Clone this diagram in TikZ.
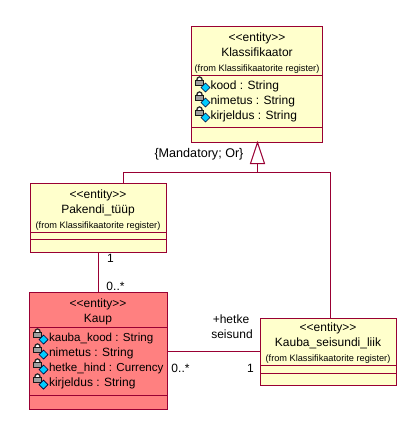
\documentclass[tikz,border=0pt]{standalone}
\usepackage{fontspec}
\setmainfont{Liberation Sans}
\definecolor{umlline}{HTML}{990033}
\definecolor{umlyellow}{HTML}{FFFFCC}
\definecolor{umlred}{HTML}{FF8080}
\definecolor{keyblue}{HTML}{00CCFF}
\tikzset{
  x=1pt,y=-1pt,
  umlbox/.style={draw=umlline,line width=1pt,inner sep=0pt,outer sep=0pt,rectangle},
  conn/.style={draw=umlline,line width=1pt},
  lab/.style={inner sep=0pt,outer sep=0pt,anchor=mid,yshift=-1.2pt,font=\fontsize{12}{12}\selectfont,text=black},
  small/.style={inner sep=0pt,outer sep=0pt,anchor=mid,yshift=-1.2pt,font=\fontsize{9.2}{9.2}\selectfont,text=black},
  attr/.style={lab,anchor=mid west,yshift=-.6pt},
  keyicon/.pic={
    \draw[black!85,line width=1.3pt,fill=white] (1.6,-4) .. controls (1.6,-9.5) and (7.4,-9.5) .. (7.4,-4);
    \fill[gray!75,draw=black!90,line width=.9pt] (.3,-4.5) rectangle (8.7,.7);
    \fill[keyblue,draw=black!80!blue,line width=.7pt] (6,2.5) -- (10.5,-2) -- (15,2.5) -- (10.5,7) -- cycle;
  }
}
\begin{document}
\begin{tikzpicture}
\useasboundingbox (0,0) rectangle (409,421);
% boxes
\node[umlbox,fill=umlyellow,minimum width=130.5pt,minimum height=115.5pt] (kl) at (256.75,84.25) {};
\node[umlbox,fill=umlyellow,minimum width=136pt,minimum height=69pt] (pak) at (98,217.5) {};
\node[umlbox,fill=umlred,minimum width=138pt,minimum height=117pt] (kaup) at (98,350.5) {};
\node[umlbox,fill=umlyellow,minimum width=136pt,minimum height=67pt] (kse) at (328,351.5) {};
% separators
\draw[conn] (kl.west |- 0,75.5) -- (kl.east |- 0,75.5) (kl.west |- 0,127.5) -- (kl.east |- 0,127.5);
\draw[conn] (pak.west |- 0,232.5) -- (pak.east |- 0,232.5) (pak.west |- 0,239.5) -- (pak.east |- 0,239.5);
\draw[conn] (kaup.west |- 0,327.5) -- (kaup.east |- 0,327.5) (kaup.west |- 0,395.5) -- (kaup.east |- 0,395.5);
\draw[conn] (kse.west |- 0,365.5) -- (kse.east |- 0,365.5) (kse.west |- 0,373.5) -- (kse.east |- 0,373.5);
% generalisation
\coordinate (tip) at (257.5,142.5);
\coordinate (base) at (257.5,163.5);
\coordinate (bar) at (257.5,172.5);
\draw[conn,line join=miter] (tip) -- (250.5,163.5) -- (264.5,163.5) -- cycle;
\draw[conn] (base) -- (bar);
\draw[conn] (pak.north -| 123.5,0) -- (123.5,172.5) -- (bar) -- (330.5,172.5) -- (kse.north -| 330.5,0);
% associations
\draw[conn] (pak.south -| 98.5,0) -- (kaup.north -| 98.5,0);
\draw[conn] (kaup.east |- 0,351.5) -- (kse.west |- 0,351.5);
% Klassifikaator
\node[lab] (kl1) at (257,38) {<{}<entity>{}>};
\node[lab] (kl2) at (257,53) {Klassifikaator};
\node[small] (kl3) at (257,68) {(from Klassifikaatorite register)};
\pic at (195,85) {keyicon};
\pic at (195,100) {keyicon};
\pic at (195,115) {keyicon};
\node[attr] (kla) at (210.5,85) {kood : String};
\node[attr] (klb) at (210.5,100) {nimetus : String};
\node[attr] (klc) at (210.5,115) {kirjeldus : String};
% Pakendi
\node[lab] (pak1) at (98,195) {<{}<entity>{}>};
\node[lab] (pak2) at (98,209.5) {Pakendi\_tüüp};
\node[small] (pak3) at (98,225) {(from Klassifikaatorite register)};
% Kaup
\node[lab] (ka1) at (98,304) {<{}<entity>{}>};
\node[lab] (ka2) at (98,318.5) {Kaup};
\pic at (33,337) {keyicon};
\pic at (33,352) {keyicon};
\pic at (33,367) {keyicon};
\pic at (33,382) {keyicon};
\node[attr,font=\fontsize{11.6}{12}\selectfont] (kaa) at (49,337) {kauba\_kood : String};
\node[attr] (kab) at (49,352) {nimetus : String};
\node[attr,font=\fontsize{11.6}{12}\selectfont] (kac) at (49,367) {hetke\_hind : Currency};
\node[attr] (kad) at (49,382.5) {kirjeldus : String};
% Kauba_seisundi_liik
\node[lab] (ks1) at (328,328) {<{}<entity>{}>};
\node[lab] (ks2) at (328,343) {Kauba\_seisundi\_liik};
\node[small] (ks3) at (328,358) {(from Klassifikaatorite register)};
% labels
\node[lab,font=\fontsize{12.6}{12}\selectfont] (mand) at (199,154) {\{Mandatory; Or\}};
\node[lab] (m1) at (110.5,259) {1};
\node[lab] (m2) at (115.5,287) {0..*};
\node[lab] (r1) at (231,320) {+hetke};
\node[lab] (r2) at (232,335) {seisund};
\node[lab] (m3) at (180.5,369) {0..*};
\node[lab] (m4) at (250.5,369) {1};
\end{tikzpicture}
\end{document}
